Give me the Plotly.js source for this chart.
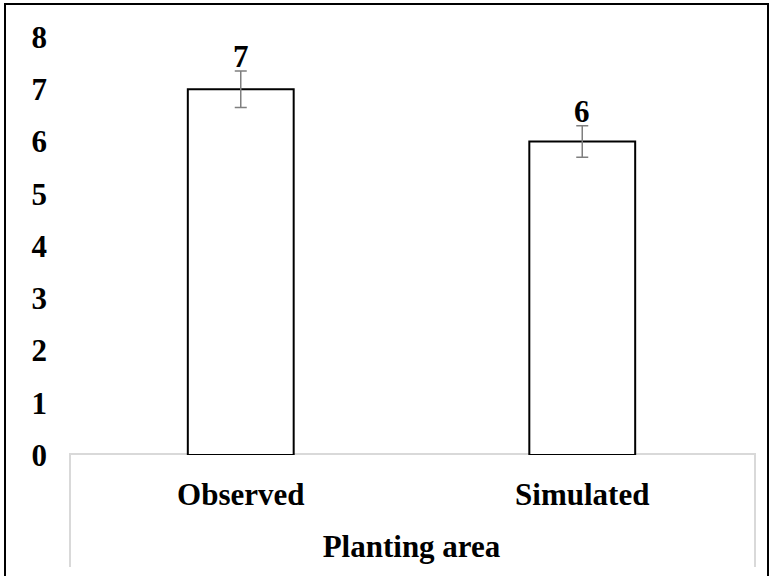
<!DOCTYPE html>
<html>
<head>
<meta charset="utf-8">
<script src="https://cdn.plot.ly/plotly-3.0.1.min.js"></script>
<style>
html,body{margin:0;padding:0;background:#fff;}
#chart{width:771px;height:576px;}
</style>
</head>
<body>
<div id="chart"></div>
<script>
const categories = ["Observed", "Simulated"];
const values = [7, 6];
const errors = [0.35, 0.3];
const yTicks = [0, 1, 2, 3, 4, 5, 6, 7, 8];
const xTitle = "Planting area";

const FONT = "Liberation Serif, Times New Roman, serif";

const trace = {
  type: "bar",
  x: categories,
  y: values,
  width: 0.31,
  marker: {color: "#ffffff", line: {color: "#000000", width: 2}},
  error_y: {type: "data", array: errors, visible: true, color: "#7f7f7f", thickness: 1.5, width: 6},
  hoverinfo: "skip"
};

const annotations = categories.map((c, i) => ({
  x: c, y: values[i] + errors[i], xref: "x", yref: "y",
  text: String(values[i]), showarrow: false, yanchor: "bottom",
  font: {family: FONT, size: 31, color: "#000", weight: "bold"},
  borderpad: 0, yshift: -4
}));

const pl = 70, pr = 753, pt = 37, pb = 455;
const W = pr - pl, H = pb - pt;
const px = v => (v - pl) / W;
const py = v => (pb - v) / H;

const shapes = [
  {type: "path", xref: "paper", yref: "paper",
   path: `M ${px(70)},${py(567)} L ${px(70)},${py(454)} L ${px(755)},${py(454)} L ${px(755)},${py(567)}`,
   line: {color: "#d9d9d9", width: 2}, layer: "below"},
  {type: "rect", xref: "paper", yref: "paper",
   x0: px(5), x1: px(768), y0: py(4), y1: py(590),
   line: {color: "#000000", width: 2}, fillcolor: "rgba(0,0,0,0)"}
];

const layout = {
  width: 771, height: 576,
  margin: {l: pl, r: 771 - pr, t: pt, b: 576 - pb, pad: 0},
  paper_bgcolor: "#ffffff", plot_bgcolor: "#ffffff",
  font: {family: FONT, size: 31, color: "#000", weight: "bold"},
  showlegend: false,
  xaxis: {
    type: "category", range: [-0.5, 1.5],
    showline: false, showgrid: false, zeroline: false, ticks: "",
    tickfont: {family: FONT, size: 31, color: "#000", weight: "bold"},
    ticklabelstandoff: 18,
    title: {text: xTitle, font: {family: FONT, size: 31, color: "#000", weight: "bold"}, standoff: 24}
  },
  yaxis: {
    range: [0, 8], tickvals: yTicks, ticktext: yTicks.map(String),
    showline: false, showgrid: false, zeroline: false, ticks: "",
    tickfont: {family: FONT, size: 31, color: "#000", weight: "bold"},
    ticklabelstandoff: 22
  },
  annotations: annotations,
  shapes: shapes
};

Plotly.newPlot("chart", [trace], layout, {displayModeBar: false, staticPlot: true});
</script>
</body>
</html>
